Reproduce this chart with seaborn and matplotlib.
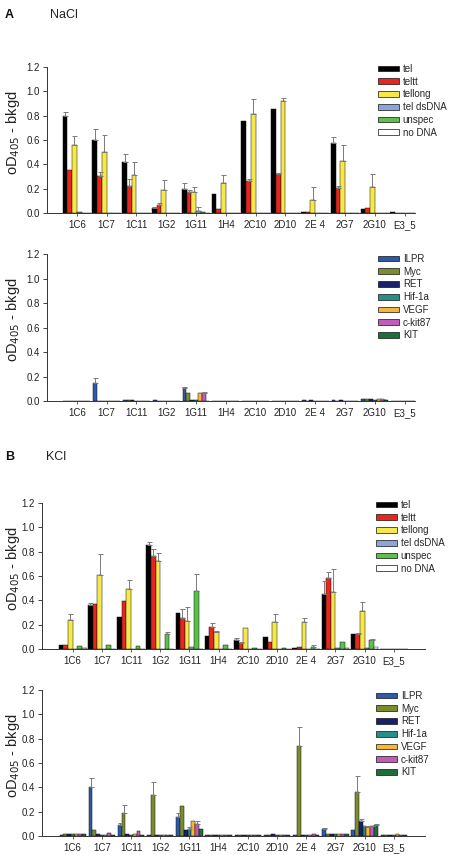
import numpy as np
import pandas as pd
import matplotlib
matplotlib.use("Agg")
import matplotlib.pyplot as plt
from matplotlib.patches import Patch
import seaborn as sns

categories = ["1C6", "1C7", "1C11", "1G2", "1G11", "1H4", "2C10", "2D10", "2E 4", "2G7", "2G10", "E3_5"]

tel_series = ["tel", "teltt", "tellong", "tel dsDNA", "unspec", "no DNA"]
tel_colors = ["#000000", "#e8261c", "#f7e84a", "#8ea5d9", "#5cc04a", "#ffffff"]
g4_series = ["ILPR", "Myc", "RET", "Hif-1a", "VEGF", "c-kit87", "KIT"]
g4_colors = ["#2d59a8", "#7b8c2c", "#18226b", "#2a8d88", "#f7b53a", "#c35bb9", "#1f6d3a"]

# ---- A: NaCl, telomeric targets ----
nacl_tel = [0.80, 0.60, 0.42, 0.04, 0.20, 0.155, 0.76, 0.855, 0.005, 0.575, 0.03, 0.008]
nacl_teltt = [0.35, 0.30, 0.22, 0.065, 0.175, 0.03, 0.265, 0.32, 0.005, 0.205, 0.045, 0.003]
nacl_tellong = [0.56, 0.50, 0.31, 0.185, 0.175, 0.245, 0.815, 0.92, 0.105, 0.425, 0.215, 0.002]
nacl_dsdna = [0.006, 0.002, 0.002, 0.002, 0.02, 0.002, 0.002, 0.002, 0.002, 0.002, 0.004, 0.002]
nacl_unspec = [0.003, 0.002, 0.002, 0.002, 0.006, 0.002, 0.002, 0.002, 0.002, 0.002, 0.004, 0.002]
nacl_nodna = [0.002, 0.002, 0.002, 0.002, 0.002, 0.002, 0.002, 0.002, 0.002, 0.002, 0.002, 0.002]
nacl_tel_err = [0.03, 0.09, 0.065, 0.01, 0.045, 0, 0, 0, 0, 0.05, 0, 0]
nacl_teltt_err = [0, 0.035, 0.06, 0.02, 0.015, 0, 0.015, 0.01, 0, 0.015, 0, 0]
nacl_tellong_err = [0.075, 0.14, 0.11, 0.085, 0.04, 0.07, 0.125, 0.025, 0.105, 0.13, 0.105, 0]
nacl_dsdna_err = [0, 0, 0, 0, 0.03, 0, 0, 0, 0, 0, 0, 0]
nacl_unspec_err = [0] * 12
nacl_nodna_err = [0] * 12

# ---- B: NaCl, G4 targets ----
nacl_ilpr = [0.003, 0.15, 0.012, 0.006, 0.11, 0.003, 0.003, 0.003, 0.005, 0.006, 0.014, 0.004]
nacl_myc = [0.003, 0.002, 0.008, 0.004, 0.065, 0.002, 0.002, 0.002, 0.004, 0.004, 0.014, 0.003]
nacl_ret = [0.003, 0.002, 0.005, 0.003, 0.01, 0.002, 0.002, 0.002, 0.006, 0.005, 0.014, 0.003]
nacl_hif = [0.003, 0.002, 0.003, 0.003, 0.005, 0.002, 0.002, 0.002, 0.004, 0.004, 0.012, 0.003]
nacl_vegf = [0.003, 0.002, 0.003, 0.003, 0.063, 0.002, 0.002, 0.002, 0.004, 0.004, 0.014, 0.003]
nacl_ckit = [0.003, 0.002, 0.003, 0.003, 0.068, 0.002, 0.002, 0.002, 0.004, 0.004, 0.016, 0.003]
nacl_kit = [0.003, 0.002, 0.003, 0.003, 0.004, 0.002, 0.002, 0.002, 0.004, 0.004, 0.008, 0.003]
nacl_ilpr_err = [0, 0.04, 0, 0, 0.005, 0, 0, 0, 0, 0, 0, 0]
nacl_myc_err = [0] * 12
nacl_ret_err = [0] * 12
nacl_hif_err = [0] * 12
nacl_vegf_err = [0] * 12
nacl_ckit_err = [0, 0, 0, 0, 0.007, 0, 0, 0, 0, 0, 0.004, 0]
nacl_kit_err = [0] * 12

# ---- C: KCl, telomeric targets ----
kcl_tel = [0.03, 0.365, 0.265, 0.855, 0.30, 0.11, 0.07, 0.10, 0.01, 0.45, 0.12, 0.004]
kcl_teltt = [0.03, 0.37, 0.395, 0.765, 0.255, 0.18, 0.05, 0.06, 0.02, 0.585, 0.125, 0.003]
kcl_tellong = [0.235, 0.61, 0.49, 0.725, 0.23, 0.14, 0.175, 0.225, 0.22, 0.465, 0.31, 0.002]
kcl_dsdna = [0.002, 0.002, 0.002, 0.004, 0.02, 0.002, 0.002, 0.002, 0.002, 0.008, 0.01, 0.002]
kcl_unspec = [0.025, 0.035, 0.025, 0.12, 0.475, 0.035, 0.008, 0.01, 0.02, 0.06, 0.07, 0.004]
kcl_nodna = [0.008, 0.002, 0.002, 0.002, 0.002, 0.002, 0.002, 0.002, 0.002, 0.008, 0.02, 0.004]
kcl_tel_err = [0, 0.01, 0, 0.025, 0, 0, 0.02, 0, 0, 0.105, 0, 0]
kcl_teltt_err = [0, 0, 0, 0.055, 0.07, 0.03, 0.01, 0, 0, 0.045, 0.01, 0]
kcl_tellong_err = [0.055, 0.17, 0.08, 0.065, 0.115, 0.01, 0, 0.06, 0.035, 0.195, 0.08, 0]
kcl_dsdna_err = [0] * 12
kcl_unspec_err = [0, 0, 0, 0.02, 0.14, 0, 0, 0, 0.01, 0, 0.01, 0]
kcl_nodna_err = [0] * 12

# ---- D: KCl, G4 targets ----
kcl_ilpr = [0.01, 0.40, 0.09, 0.01, 0.16, 0.01, 0.005, 0.005, 0.005, 0.06, 0.05, 0.005]
kcl_myc = [0.015, 0.05, 0.19, 0.34, 0.245, 0.01, 0.005, 0.008, 0.74, 0.02, 0.36, 0.005]
kcl_ret = [0.02, 0.02, 0.015, 0.01, 0.05, 0.012, 0.01, 0.015, 0.01, 0.015, 0.12, 0.01]
kcl_hif = [0.015, 0.01, 0.01, 0.005, 0.06, 0.01, 0.01, 0.01, 0.005, 0.015, 0.08, 0.01]
kcl_vegf = [0.015, 0.01, 0.02, 0.005, 0.12, 0.01, 0.01, 0.008, 0.005, 0.015, 0.07, 0.015]
kcl_ckit = [0.015, 0.025, 0.04, 0.005, 0.10, 0.008, 0.01, 0.008, 0.02, 0.015, 0.08, 0.012]
kcl_kit = [0.02, 0.01, 0.01, 0.005, 0.06, 0.008, 0.01, 0.008, 0.005, 0.015, 0.09, 0.01]
kcl_ilpr_err = [0, 0.08, 0.015, 0, 0.025, 0, 0, 0, 0, 0.005, 0, 0]
kcl_myc_err = [0, 0, 0.065, 0.105, 0, 0, 0, 0, 0.155, 0, 0.13, 0]
kcl_ret_err = [0, 0, 0, 0, 0, 0, 0, 0, 0, 0, 0.02, 0]
kcl_hif_err = [0, 0, 0, 0, 0.01, 0, 0, 0, 0, 0, 0.005, 0]
kcl_vegf_err = [0, 0, 0, 0, 0, 0, 0, 0, 0, 0, 0.01, 0]
kcl_ckit_err = [0, 0, 0, 0, 0.02, 0, 0, 0, 0, 0, 0.005, 0]
kcl_kit_err = [0, 0, 0, 0, 0, 0, 0, 0, 0, 0, 0.01, 0]

yticks = [0.0, 0.2, 0.4, 0.6, 0.8, 1.0, 1.2]

sns.set_style("ticks")
plt.rcParams["font.family"] = ["Liberation Sans", "DejaVu Sans"]

W, H = 449, 855
fig = plt.figure(figsize=(W / 100, H / 100), dpi=100)


def add_panel(px_left, px_right, px_top, px_bottom, vals, errs, series, colors, width,
              xlim, leg_x, leg_y):
    ax = fig.add_axes([px_left / W, 1 - px_bottom / H, (px_right - px_left) / W,
                       (px_bottom - px_top) / H])
    df = pd.DataFrame({
        "cat": np.tile(categories, len(series)),
        "series": np.repeat(series, len(categories)),
        "value": np.concatenate(vals),
    })
    sns.barplot(data=df, x="cat", y="value", hue="series", order=categories,
                hue_order=series, palette=colors, width=width, errorbar=None,
                edgecolor="#111111", linewidth=0.35, saturation=1, legend=False, ax=ax)
    for cont, err in zip(ax.containers, errs):
        xs, ys, es = [], [], []
        for p, e in zip(cont.patches, err):
            if e > 0:
                xs.append(p.get_x() + p.get_width() / 2)
                ys.append(p.get_height())
                es.append(e)
        if xs:
            ax.errorbar(xs, ys, yerr=[np.zeros(len(es)), es], fmt="none",
                        ecolor="#7a7a7a", elinewidth=0.7, capsize=1.8, capthick=0.7,
                        zorder=1)
    ax.set_ylim(0, 1.2)
    ax.set_xlim(*xlim)
    ax.set_yticks(yticks)
    ax.set_yticklabels([f"{t:.1f}" for t in yticks], fontsize=7, color="#222222")
    ax.set_xticks(range(len(categories)))
    ax.set_xticklabels(categories, fontsize=7, color="#222222")
    ax.tick_params(axis="y", length=3, width=0.6, pad=2)
    ax.tick_params(axis="x", length=2, width=0.5, pad=3)
    ax.set_xlabel("")
    ax.set_ylabel("oD$_{405}$ - bkgd", fontsize=10.5, color="#222222")
    ax.yaxis.set_label_coords((22 - px_left) / (px_right - px_left), 0.55)
    sns.despine(ax=ax)
    for s in ("left", "bottom"):
        ax.spines[s].set_linewidth(0.7)
        ax.spines[s].set_color("#333333")
    handles = [Patch(facecolor=c, edgecolor="#111111", linewidth=0.5, label=s)
               for s, c in zip(series, colors)]
    ax.legend(handles=handles, loc="upper left", bbox_to_anchor=(leg_x / W, 1 - leg_y / H),
              bbox_transform=fig.transFigure, frameon=False, fontsize=7,
              handlelength=2.2, handleheight=0.55, handletextpad=0.35,
              labelspacing=0.28, borderpad=0, borderaxespad=0)
    return ax


add_panel(47, 415, 67, 213,
          [nacl_tel, nacl_teltt, nacl_tellong, nacl_dsdna, nacl_unspec, nacl_nodna],
          [nacl_tel_err, nacl_teltt_err, nacl_tellong_err, nacl_dsdna_err, nacl_unspec_err,
           nacl_nodna_err],
          tel_series, tel_colors, 0.95, (-1.0, 11.35), 378, 64)

add_panel(47, 415, 254, 401,
          [nacl_ilpr, nacl_myc, nacl_ret, nacl_hif, nacl_vegf, nacl_ckit, nacl_kit],
          [nacl_ilpr_err, nacl_myc_err, nacl_ret_err, nacl_hif_err, nacl_vegf_err,
           nacl_ckit_err, nacl_kit_err],
          g4_series, g4_colors, 0.9, (-1.0, 11.35), 378, 254)

add_panel(42, 425, 503, 649,
          [kcl_tel, kcl_teltt, kcl_tellong, kcl_dsdna, kcl_unspec, kcl_nodna],
          [kcl_tel_err, kcl_teltt_err, kcl_tellong_err, kcl_dsdna_err, kcl_unspec_err,
           kcl_nodna_err],
          tel_series, tel_colors, 0.95, (-1.05, 12.07), 376, 500)

add_panel(42, 425, 690, 836,
          [kcl_ilpr, kcl_myc, kcl_ret, kcl_hif, kcl_vegf, kcl_ckit, kcl_kit],
          [kcl_ilpr_err, kcl_myc_err, kcl_ret_err, kcl_hif_err, kcl_vegf_err,
           kcl_ckit_err, kcl_kit_err],
          g4_series, g4_colors, 0.9, (-1.05, 12.07), 376, 691)

fig.text(5 / W, 1 - 15 / H, "A", fontsize=9, fontweight="bold", va="center", color="#111111")
fig.text(50 / W, 1 - 15 / H, "NaCl", fontsize=9, va="center", color="#222222")
fig.text(5 / W, 1 - 457 / H, "B", fontsize=9, fontweight="bold", va="center", color="#111111")
fig.text(46 / W, 1 - 457 / H, "KCl", fontsize=9, va="center", color="#222222")

fig.savefig("out.png", dpi=100)
